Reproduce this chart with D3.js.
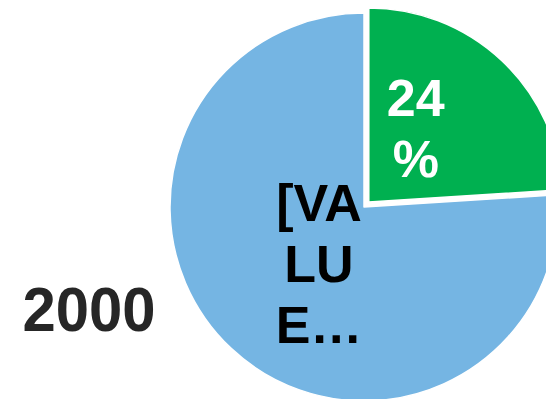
<!DOCTYPE html>
<html>
<head>
<meta charset="utf-8">
<script src="https://cdn.jsdelivr.net/npm/d3@7"></script>
<style>
  html, body { margin: 0; padding: 0; background: #fff; }
  svg { display: block; }
  text { font-family: "Liberation Sans", Arial, sans-serif; font-weight: bold; }
</style>
</head>
<body>
<svg id="chart" width="546" height="399"></svg>
<script>
// Slice data
const categories = ["Share", "Rest"];
const values = [24, 76];
const sliceLabels = [["24", "%"], ["[VA", "LU", "E…"]];
const sliceColors = ["#00B050", "#75B5E3"];
const labelColors = ["#FFFFFF", "#000000"];
const exploded = [true, false];
const seriesTitle = "2000";

const width = 546, height = 399;
const cx = 364, cy = 207, radius = 194;
const explodeDist = 7;
const fontSize = 52, lineHeight = 61, capHeight = 37;

// label anchor offsets (x, y of text block middle) from the pie centre
const labelOffsets = [[47, -74], [-45, 56]];

const svg = d3.select("#chart");

const pie = d3.pie().sort(null).value(d => d)(values);
const arc = d3.arc().innerRadius(0).outerRadius(radius);

const g = svg.append("g").attr("transform", `translate(${cx},${cy})`);

const slices = g.selectAll("g.slice")
  .data(pie)
  .join("g")
  .attr("class", "slice")
  .attr("transform", (d, i) => {
    if (!exploded[i]) return null;
    const mid = (d.startAngle + d.endAngle) / 2;
    return `translate(${Math.sin(mid) * explodeDist},${-Math.cos(mid) * explodeDist})`;
  });

slices.append("path")
  .attr("d", arc)
  .attr("fill", (d, i) => sliceColors[i])
  .attr("stroke", "#FFFFFF")
  .attr("stroke-width", 1.5)
  .attr("stroke-linejoin", "round");

// in-slice value labels
slices.append("text")
  .attr("text-anchor", "middle")
  .attr("font-size", fontSize)
  .attr("fill", (d, i) => labelColors[i])
  .each(function (d, i) {
    const lines = sliceLabels[i];
    const [ox, oy] = labelOffsets[i];
    const first = oy - (lines.length - 1) * lineHeight / 2 + capHeight / 2;
    d3.select(this).selectAll("tspan")
      .data(lines)
      .join("tspan")
      .attr("x", ox)
      .attr("y", (t, k) => first + k * lineHeight)
      .text(t => t);
  });

// series title on the left
svg.append("text")
  .attr("x", 89)
  .attr("y", 331)
  .attr("text-anchor", "middle")
  .attr("font-size", 63)
  .attr("fill", "#262626")
  .attr("textLength", 133)
  .attr("lengthAdjust", "spacingAndGlyphs")
  .text(seriesTitle);
</script>
</body>
</html>
